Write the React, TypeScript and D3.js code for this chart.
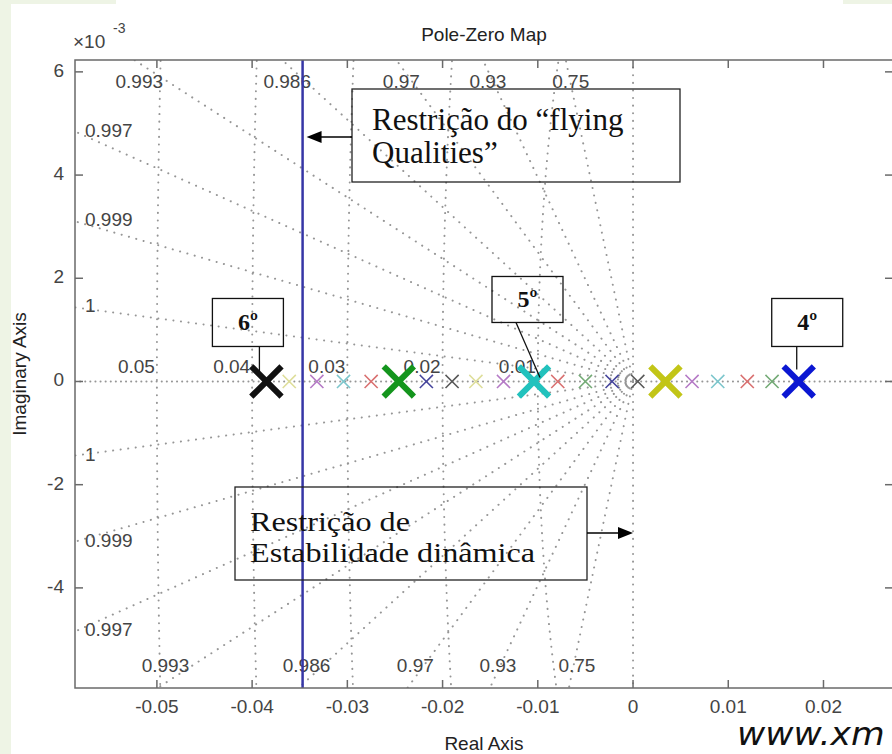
import React from 'react';
import * as d3 from 'd3';

// chart values
const xTicks = [-0.05, -0.04, -0.03, -0.02, -0.01, 0, 0.01, 0.02];
const xTickLabels = ['-0.05', '-0.04', '-0.03', '-0.02', '-0.01', '0', '0.01', '0.02'];
const yTicks = [-4, -2, 0, 2, 4, 6]; // x 10^-3
const dampingValues = [0.75, 0.93, 0.97, 0.986, 0.993, 0.9966, 0.9986, 0.9997];
const dampingLabels = ['0.75', '0.93', '0.97', '0.986', '0.993', '0.997', '0.999', '1'];
const freqValues = [0.01, 0.02, 0.03, 0.04, 0.05];
const freqLabels = ['0.01', '0.02', '0.03', '0.04', '0.05'];
const poleRe = [-0.0385, -0.0361, -0.0332, -0.0304, -0.0275, -0.0246, -0.0217, -0.0190, -0.0165, -0.0136,
  -0.0104, -0.0079, -0.0050, -0.0022, 0.0005, 0.0034, 0.0062, 0.0089, 0.0120, 0.0146, 0.0174];
const poleColorKey = ['k', 'y', 'm', 'c', 'r', 'g', 'b', 'k', 'y', 'm', 'c', 'r', 'g', 'b', 'k', 'y', 'm', 'c', 'r', 'g', 'b'];
const bigPoles = [0, 5, 10, 15, 20];
const flyingLimit = -0.0347;

const bigColors: Record<string, string> = { k: '#111111', g: '#14951d', c: '#22c2bd', y: '#c2c517', b: '#0b17d2' };
const smallColors: Record<string, string> = { k: '#585858', b: '#46459c', g: '#74ab76', r: '#d97070', c: '#7cc6cc', m: '#b57ac6', y: '#dede9a' };

const W = 892, H = 754;
const L = 75, R = 893, T = 60, B = 688;

const x = d3.scaleLinear().domain([-0.0586, 0.0273]).range([L, R]);
const y = d3.scaleLinear().domain([-5.94, 6.23]).range([B, T]); // units of 1e-3

const axisFont = '"Liberation Sans", Arial, sans-serif';
const serif = '"Liberation Serif", "Times New Roman", serif';
const gridStyle = { stroke: '#969696', strokeWidth: 2, strokeDasharray: '0.1 7.5', strokeLinecap: 'round' as const, fill: 'none' };

const line = d3.line<[number, number]>().x(d => x(d[0])).y(d => y(d[1] * 1000));

function circlePath(r: number) {
  const pts: [number, number][] = d3.range(-0.0066, 0.00661, 0.0001).map(v => [-Math.sqrt(r * r - v * v), v]);
  return line(pts) || '';
}

function dampPath(z: number, sign: number) {
  const far = 0.2;
  return line([[0, 0], [-z * far, sign * Math.sqrt(1 - z * z) * far]]) || '';
}

const poleTags = [
  { label: '6º', pole: 0, box: [-54, -83, 71, 48], from: 47, to: [-7, -10] },
  { label: '5º', pole: 10, box: [-42, -105, 71, 46], from: 24, to: [6, -4] },
  { label: '4º', pole: 20, box: [-27, -83, 71, 48], from: 25, to: [-2, -12] },
];

function Arrow({ x1, x2, yy }: { x1: number; x2: number; yy: number }) {
  const dir = Math.sign(x2 - x1);
  return (
    <g>
      <line x1={x1} y1={yy} x2={x2 - dir * 12} y2={yy} stroke="#000" strokeWidth={1.3} />
      <polygon points={`${x2},${yy} ${x2 - dir * 15},${yy - 6} ${x2 - dir * 15},${yy + 6}`} fill="#000" />
    </g>
  );
}

export default function App() {
  const y0 = y(0);
  const labelColor = '#444';
  return (
    <svg width={W} height={H} style={{ position: 'absolute', left: 0, top: 0 }}>
      <defs>
        <clipPath id="plot"><rect x={L} y={T} width={R - L} height={B - T} /></clipPath>
      </defs>
      <rect width={W} height={H} fill="#eef4e5" />
      <rect x={11} y={4} width={W - 11} height={H - 4} fill="#fff" />
      <rect x={116} y={0} width={727} height={5} fill="#fff" />

      {/* grid */}
      <g clipPath="url(#plot)">
        {freqValues.map(r => <path key={r} d={circlePath(r)} {...gridStyle} />)}
        {dampingValues.map(z => (
          <g key={z}>
            <path d={dampPath(z, 1)} {...gridStyle} />
            <path d={dampPath(z, -1)} {...gridStyle} />
          </g>
        ))}
        <line x1={L} x2={R} y1={y0} y2={y0} {...gridStyle} strokeDasharray="0.1 5" />
        <line x1={x(0)} x2={x(0)} y1={T} y2={B} {...gridStyle} />
      </g>

      {/* grid labels */}
      <g fontFamily={axisFont} fontSize={19} fill={labelColor}>
        {dampingValues.map((z, i) => {
          const s = Math.sqrt(1 - z * z) / z;
          const yTop = y.domain()[1] / 1000;
          const yBot = y.domain()[0] / 1000;
          const xTop = -yTop / s;
          if (xTop > x.domain()[0]) {
            const xBot = yBot / s;
            return (
              <g key={z}>
                <text x={x(xTop) + 5} y={T + 23} textAnchor="middle" dominantBaseline="middle">{dampingLabels[i]}</text>
                <text x={x(xBot) + 8} y={B - 21} textAnchor="middle" dominantBaseline="middle">{dampingLabels[i]}</text>
              </g>
            );
          }
          const yl = -x.domain()[0] * s * 1000;
          return (
            <g key={z}>
              <text x={L + 10} y={y(yl)} dominantBaseline="middle">{dampingLabels[i]}</text>
              <text x={L + 10} y={y(-yl)} dominantBaseline="middle">{dampingLabels[i]}</text>
            </g>
          );
        })}
        {freqValues.map((r, i) => (
          <text key={r} x={x(-r) - 2} y={y0 - 13} textAnchor="end" dominantBaseline="middle">{freqLabels[i]}</text>
        ))}
      </g>

      {/* flying qualities limit */}
      <line x1={x(flyingLimit)} x2={x(flyingLimit)} y1={T} y2={B} stroke="#3636a6" strokeWidth={2.5} />

      {/* axes box and ticks */}
      <rect x={L} y={T} width={R - L} height={B - T} fill="none" stroke="#6a6a6a" strokeWidth={1.5} />
      <g stroke="#6a6a6a" strokeWidth={1.5}>
        {xTicks.map(t => (
          <g key={t}>
            <line x1={x(t)} x2={x(t)} y1={B} y2={B - 8} />
            <line x1={x(t)} x2={x(t)} y1={T} y2={T + 8} />
          </g>
        ))}
        {yTicks.map(t => (
          <g key={t}>
            <line x1={L} x2={L + 8} y1={y(t)} y2={y(t)} />
            <line x1={R} x2={R - 8} y1={y(t)} y2={y(t)} />
          </g>
        ))}
      </g>
      <g fontFamily={axisFont} fontSize={19} fill={labelColor}>
        {xTicks.map((t, i) => (
          <text key={t} x={x(t)} y={713} textAnchor="middle">{xTickLabels[i]}</text>
        ))}
        {yTicks.map(t => (
          <text key={t} x={L - 11} y={y(t)} textAnchor="end" dominantBaseline="middle">{String(t)}</text>
        ))}
        <text x={73} y={48}>×10</text>
        <text x={113} y={33} fontSize={14}>-3</text>
      </g>
      <text x={(L + R) / 2} y={41} textAnchor="middle" fontFamily={axisFont} fontSize={19} fill="#222">Pole-Zero Map</text>
      <text x={(L + R) / 2} y={750} textAnchor="middle" fontFamily={axisFont} fontSize={19} fill="#222">Real Axis</text>
      <text transform={`translate(21,${(T + B) / 2}) rotate(-90)`} textAnchor="middle" dominantBaseline="middle"
        fontFamily={axisFont} fontSize={19} fill="#222">Imaginary Axis</text>

      {/* poles */}
      <g strokeLinecap="square">
        {poleRe.map((p, i) => {
          const big = bigPoles.includes(i);
          const h = big ? 13 : 6;
          const c = big ? bigColors[poleColorKey[i]] : smallColors[poleColorKey[i]];
          return (
            <path key={i} transform={`translate(${x(p)},${y0})`}
              d={`M${-h},${-h}L${h},${h}M${-h},${h}L${h},${-h}`}
              stroke={c} strokeWidth={big ? 6 : 1.6} fill="none" />
          );
        })}
      </g>

      {/* annotations */}
      {poleTags.map(t => {
        const px = x(poleRe[t.pole]);
        const [dx, dy, w, h] = t.box;
        const bx = px + dx, by = y0 + dy;
        return (
          <g key={t.label}>
            <line x1={bx + t.from} y1={by + h} x2={px + t.to[0]} y2={y0 + t.to[1]} stroke="#111" strokeWidth={1.3} />
            <rect x={bx} y={by} width={w} height={h} fill="none" stroke="#111" strokeWidth={1.3} />
            <text x={bx + w / 2} y={by + h / 2 + 8} textAnchor="middle" fontFamily={serif} fontWeight="bold" fontSize={24} fill="#111">{t.label}</text>
          </g>
        );
      })}

      <rect x={352} y={89} width={328} height={93} fill="none" stroke="#222" strokeWidth={1.3} />
      <Arrow x1={352} x2={x(flyingLimit) + 4} yy={137} />
      <text fontFamily={serif} fontSize={31} fill="#111">
        <tspan x={372} y={130}>Restrição do “flying</tspan>
        <tspan x={372} y={163}>Qualities”</tspan>
      </text>

      <rect x={235} y={487} width={352} height={93} fill="none" stroke="#222" strokeWidth={1.3} />
      <Arrow x1={587} x2={x(0)} yy={533} />
      <g transform="translate(250,0) scale(1.15,1)">
        <text fontFamily={serif} fontSize={28} fill="#111">
          <tspan x={0} y={531}>Restrição de</tspan>
          <tspan x={0} y={562}>Estabilidade dinâmica</tspan>
        </text>
      </g>

      <g transform="translate(737,745) scale(1.08,1)">
        <text x={0} y={0} fontFamily='"DejaVu Sans", Verdana, sans-serif' fontStyle="italic" fontSize={32} fill="#111">www.xm</text>
      </g>
    </svg>
  );
}
